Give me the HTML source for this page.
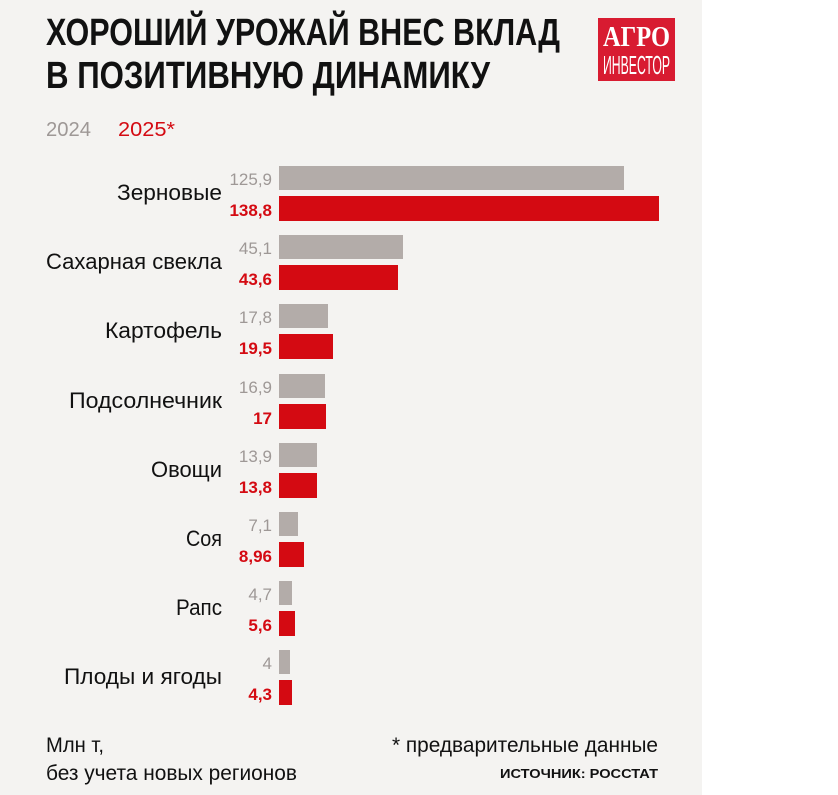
<!DOCTYPE html>
<html><head><meta charset="utf-8"><style>
html,body{margin:0;padding:0;background:#fff;}
svg{display:block;font-family:"Liberation Sans","DejaVu Sans",sans-serif;}
</style></head><body>
<svg width="838" height="795" viewBox="0 0 838 795" xmlns="http://www.w3.org/2000/svg">
<rect x="0" y="0" width="702" height="795" fill="#f4f3f1"/>
<text x="46" y="45" font-size="38" font-weight="bold" fill="#111" textLength="514" lengthAdjust="spacingAndGlyphs">ХОРОШИЙ УРОЖАЙ ВНЕС ВКЛАД</text>
<text x="46" y="88" font-size="38" font-weight="bold" fill="#111" textLength="444" lengthAdjust="spacingAndGlyphs">В ПОЗИТИВНУЮ ДИНАМИКУ</text>
<rect x="598" y="18" width="77" height="63" fill="#d81b31"/>
<text x="636.5" y="46" font-family="Liberation Serif,serif" font-size="28" font-weight="bold" fill="#fff" text-anchor="middle" textLength="67" lengthAdjust="spacingAndGlyphs">АГРО</text>
<text x="636.5" y="74" font-size="26" fill="#fff" text-anchor="middle" textLength="67" lengthAdjust="spacingAndGlyphs">ИНВЕСТОР</text>
<text x="46" y="136" font-size="20" fill="#9e9896" textLength="45" lengthAdjust="spacingAndGlyphs">2024</text>
<text x="118" y="136" font-size="20" fill="#d40a12" textLength="57" lengthAdjust="spacingAndGlyphs">2025*</text>
<g id="bars"></g>
<g font-size="22" fill="#111" text-anchor="end">
<text x="222" y="200" textLength="105" lengthAdjust="spacingAndGlyphs">Зерновые</text>
<text x="222" y="269" textLength="176" lengthAdjust="spacingAndGlyphs">Сахарная свекла</text>
<text x="222" y="338" textLength="117" lengthAdjust="spacingAndGlyphs">Картофель</text>
<text x="222" y="408" textLength="153" lengthAdjust="spacingAndGlyphs">Подсолнечник</text>
<text x="222" y="477" textLength="71" lengthAdjust="spacingAndGlyphs">Овощи</text>
<text x="222" y="546" textLength="36" lengthAdjust="spacingAndGlyphs">Соя</text>
<text x="222" y="615" textLength="46" lengthAdjust="spacingAndGlyphs">Рапс</text>
<text x="222" y="684" textLength="158" lengthAdjust="spacingAndGlyphs">Плоды и ягоды</text>
</g>
<g>
<rect x="279" y="166" width="345" height="24" fill="#b3aca9"/><rect x="279" y="196" width="380" height="25" fill="#d40a12"/>
<rect x="279" y="235" width="124" height="24" fill="#b3aca9"/><rect x="279" y="265" width="119" height="25" fill="#d40a12"/>
<rect x="279" y="304" width="49" height="24" fill="#b3aca9"/><rect x="279" y="334" width="54" height="25" fill="#d40a12"/>
<rect x="279" y="374" width="46" height="24" fill="#b3aca9"/><rect x="279" y="404" width="47" height="25" fill="#d40a12"/>
<rect x="279" y="443" width="38" height="24" fill="#b3aca9"/><rect x="279" y="473" width="38" height="25" fill="#d40a12"/>
<rect x="279" y="512" width="19" height="24" fill="#b3aca9"/><rect x="279" y="542" width="25" height="25" fill="#d40a12"/>
<rect x="279" y="581" width="13" height="24" fill="#b3aca9"/><rect x="279" y="611" width="16" height="25" fill="#d40a12"/>
<rect x="279" y="650" width="11" height="24" fill="#b3aca9"/><rect x="279" y="680" width="13" height="25" fill="#d40a12"/>
</g>
<g font-size="17" text-anchor="end" lengthAdjust="spacingAndGlyphs">
<text x="272" y="185" fill="#9e9896">125,9</text><text x="272" y="216" fill="#d40a12" font-weight="bold">138,8</text>
<text x="272" y="254" fill="#9e9896">45,1</text><text x="272" y="285" fill="#d40a12" font-weight="bold">43,6</text>
<text x="272" y="323" fill="#9e9896">17,8</text><text x="272" y="354" fill="#d40a12" font-weight="bold">19,5</text>
<text x="272" y="393" fill="#9e9896">16,9</text><text x="272" y="424" fill="#d40a12" font-weight="bold">17</text>
<text x="272" y="462" fill="#9e9896">13,9</text><text x="272" y="493" fill="#d40a12" font-weight="bold">13,8</text>
<text x="272" y="531" fill="#9e9896">7,1</text><text x="272" y="562" fill="#d40a12" font-weight="bold">8,96</text>
<text x="272" y="600" fill="#9e9896">4,7</text><text x="272" y="631" fill="#d40a12" font-weight="bold">5,6</text>
<text x="272" y="669" fill="#9e9896">4</text><text x="272" y="700" fill="#d40a12" font-weight="bold">4,3</text>
</g>
<text x="46" y="752" font-size="21" fill="#111" textLength="58" lengthAdjust="spacingAndGlyphs">Млн т,</text>
<text x="46" y="780" font-size="21" fill="#111" textLength="251" lengthAdjust="spacingAndGlyphs">без учета новых регионов</text>
<text x="392" y="752" font-size="21" fill="#111" textLength="266" lengthAdjust="spacingAndGlyphs">* предварительные данные</text>
<text x="500" y="778" font-size="13" font-weight="bold" fill="#111" textLength="158" lengthAdjust="spacingAndGlyphs">ИСТОЧНИК: РОССТАТ</text>
</svg>
</body></html>
